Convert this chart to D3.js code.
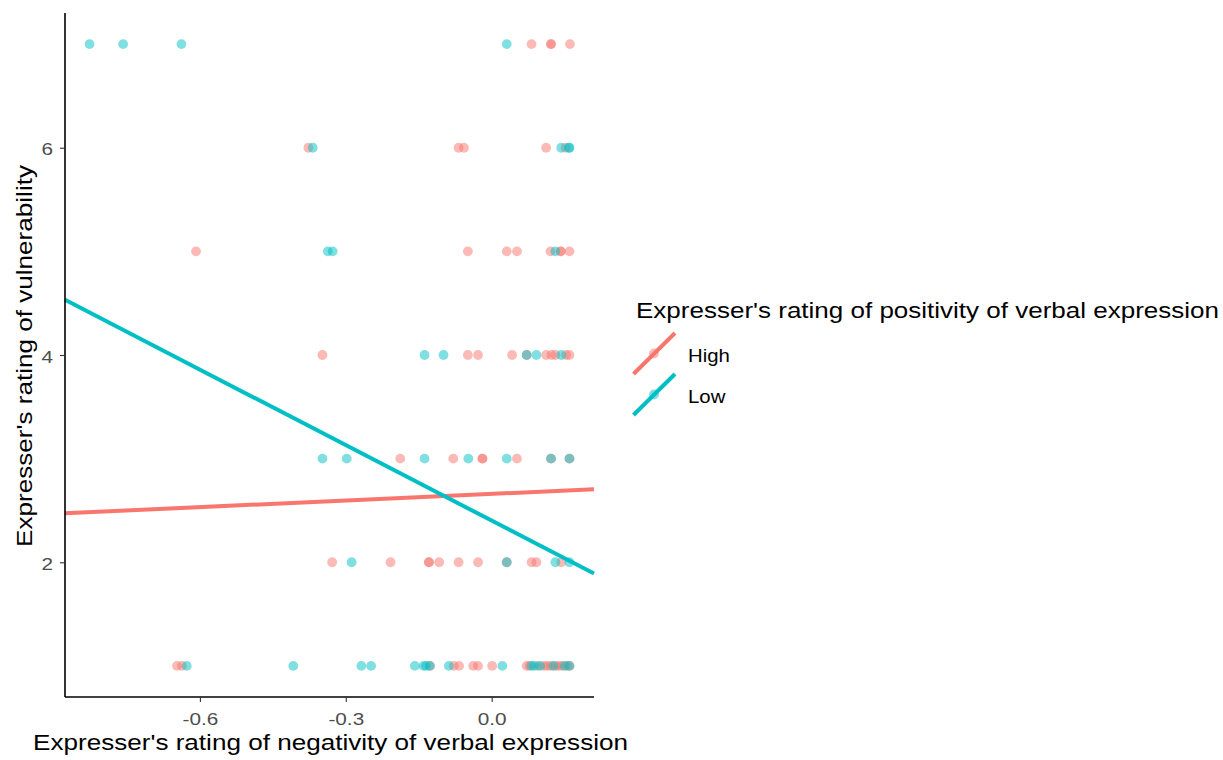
<!DOCTYPE html>
<html><head><meta charset="utf-8">
<script src="https://cdn.jsdelivr.net/npm/d3@7"></script>
<style>body{margin:0;background:#fff}svg text{font-family:"Liberation Sans",Arial,sans-serif}</style>
</head><body><svg id="c" width="1223" height="760"></svg>
<script>
// Data: x = negativity, y = vulnerability rating, per group
const groups = ["High", "Low"];
const colors = ["#F8766D", "#00BFC4"];
const highX = [0.082,0.122,0.122,0.161,
  -0.377,-0.068,-0.057,0.112,0.152,
  -0.608,-0.049,0.031,0.052,0.121,0.142,0.142,0.16,
  -0.348,-0.049,-0.028,0.042,0.072,0.112,0.123,0.131,0.153,0.16,
  -0.188,-0.079,-0.019,-0.019,0.052,0.122,0.16,
  -0.328,-0.208,-0.129,-0.129,-0.108,-0.068,-0.028,0.031,0.082,0.092,0.143,
  -0.647,-0.637,-0.127,-0.078,-0.067,-0.038,-0.028,0.001,0.072,0.078,0.095,0.108,0.115,0.122,0.132,0.138,0.145,0.155,0.16];
const highY = [7,7,7,7,
  6,6,6,6,6,
  5,5,5,5,5,5,5,5,
  4,4,4,4,4,4,4,4,4,4,
  3,3,3,3,3,3,3,
  2,2,2,2,2,2,2,2,2,2,2,
  1,1,1,1,1,1,1,1,1,1,1,1,1,1,1,1,1,1,1];
const lowX = [-0.827,-0.758,-0.638,0.031,
  -0.368,0.143,0.159,0.16,
  -0.337,-0.327,0.131,
  -0.138,-0.099,0.072,0.092,0.143,
  -0.348,-0.298,-0.138,-0.048,0.031,0.122,0.16,
  -0.288,0.031,0.131,0.16,
  -0.627,-0.408,-0.268,-0.248,-0.158,-0.140,-0.135,-0.127,-0.088,0.022,0.082,0.088,0.1,0.127,0.15,0.16];
const lowY = [7,7,7,7,
  6,6,6,6,
  5,5,5,
  4,4,4,4,4,
  3,3,3,3,3,3,3,
  2,2,2,2,
  1,1,1,1,1,1,1,1,1,1,1,1,1,1,1,1];
// fitted linear trends (intercept, slope) per group
const fitIntercept = [2.660, 2.402];
const fitSlope = [0.2136, -2.428];
const xTicks = [-0.6, -0.3, 0.0];
const yTicks = [2, 4, 6];

const svg = d3.select("#c");
const L = 65, R = 594, T = 13, B = 697;
const xMin = -0.828, xMax = 0.161, xPad = (xMax - xMin) * 0.05;
const x = d3.scaleLinear().domain([xMin - xPad, xMax + xPad]).range([L, R]);
const y = d3.scaleLinear().domain([0.7, 7.3]).range([B, T]);

function stretch(sel, f) {
  sel.each(function(){
    const w = this.getComputedTextLength();
    d3.select(this).attr("textLength", w*f).attr("lengthAdjust", "spacingAndGlyphs");
  });
}

const g = svg.append("g");
const pts = [];
highX.forEach((v,i)=>pts.push({x:v,y:highY[i],g:0}));
lowX.forEach((v,i)=>pts.push({x:v,y:lowY[i],g:1}));
g.selectAll("circle").data(pts).join("circle")
  .attr("cx", d=>x(d.x)).attr("cy", d=>y(d.y)).attr("r", 4.9)
  .attr("fill", d=>colors[d.g]).attr("fill-opacity", 0.5);

const xd = x.domain();
groups.forEach((grp,i)=>{
  g.append("line")
    .attr("x1", x(xd[0])).attr("y1", y(fitIntercept[i] + fitSlope[i]*xd[0]))
    .attr("x2", x(xd[1])).attr("y2", y(fitIntercept[i] + fitSlope[i]*xd[1]))
    .attr("stroke", colors[i]).attr("stroke-width", 4);
});

// axes
const xa = svg.append("g").attr("transform", `translate(0,${B})`)
  .call(d3.axisBottom(x).tickValues(xTicks).tickFormat(d=>d.toFixed(1)).tickSize(5).tickPadding(5));
const ya = svg.append("g").attr("transform", `translate(${L},0)`)
  .call(d3.axisLeft(y).tickValues(yTicks).tickFormat(d=>String(d)).tickSize(5).tickPadding(7));
[xa, ya].forEach(a=>{
  a.select(".domain").attr("stroke", "#000").attr("stroke-width", 1.6);
  a.selectAll(".tick line").attr("stroke", "#333").attr("stroke-width", 1.1);
  a.selectAll(".tick text").attr("fill", "#4d4d4d").style("font-size", "17px")
    .style("font-family", "'Liberation Sans', Arial, sans-serif");
  stretch(a.selectAll(".tick text"), 1.22);
});
xa.selectAll(".tick text").attr("dy", null).attr("y", 28);
ya.selectAll(".tick text").attr("dy", null).attr("y", 7);
xa.select(".domain").attr("d", `M${L},0H${R}`);
ya.select(".domain").attr("d", `M0,${T}V${B}`);

const xt = svg.append("text").attr("x", (L+R)/2 + 1).attr("y", 749.5).attr("text-anchor", "middle")
  .style("font-size", "21.5px").attr("fill", "#000")
  .text("Expresser's rating of negativity of verbal expression");
xt.attr("textLength", 595).attr("lengthAdjust", "spacingAndGlyphs");
const yt = svg.append("text").attr("transform", `translate(31.5,${(T+B)/2 + 1}) rotate(-90)`).attr("text-anchor", "middle")
  .style("font-size", "21.5px").attr("fill", "#000")
  .text("Expresser's rating of vulnerability");
yt.attr("textLength", 382).attr("lengthAdjust", "spacingAndGlyphs");

// legend
const lg = svg.append("g");
lg.append("text").attr("x", 636).attr("y", 317.5).style("font-size", "21.5px").attr("fill", "#000")
  .attr("textLength", 583).attr("lengthAdjust", "spacingAndGlyphs")
  .text("Expresser's rating of positivity of verbal expression");
groups.forEach((grp,i)=>{
  const cy = 353.5 + i*41;
  lg.append("line").attr("x1", 633.5).attr("y1", cy+20.5).attr("x2", 675).attr("y2", cy-20.5)
    .attr("stroke", colors[i]).attr("stroke-width", 4);
  lg.append("circle").attr("cx", 654).attr("cy", cy).attr("r", 4.9)
    .attr("fill", colors[i]).attr("fill-opacity", 0.5);
  const t = lg.append("text").attr("x", 688).attr("y", cy+8.5).style("font-size", "18.5px").attr("fill", "#000").text(grp);
  stretch(t, 1.1);
});
</script></body></html>
